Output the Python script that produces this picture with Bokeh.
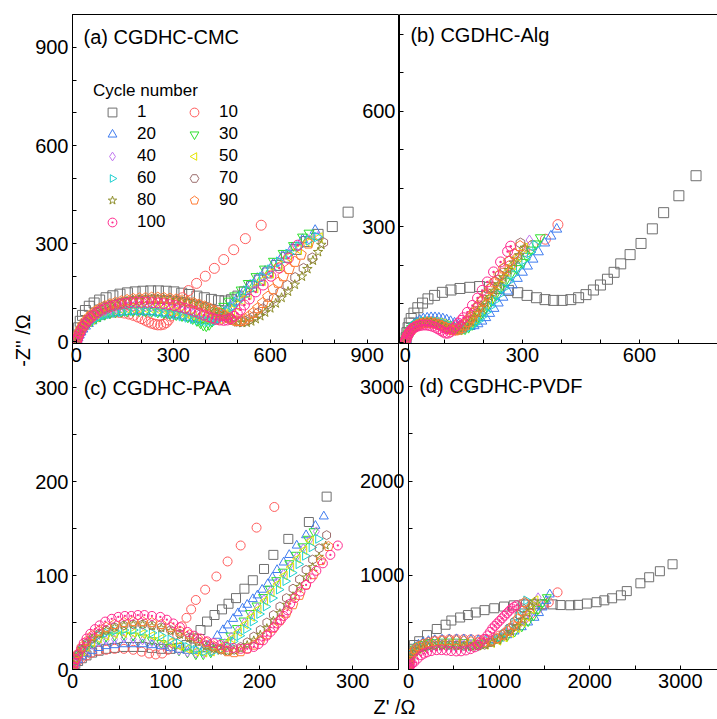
import math
from bokeh.plotting import figure
from bokeh.models import (ColumnDataSource, Range1d, FixedTicker, Label, Legend,
                          LegendItem, LinearAxis, Ngon)
from bokeh.layouts import row, column
from bokeh.embed import file_html
from bokeh.resources import INLINE

FONT = "Liberation Sans"

CYCLES = ["1", "10", "20", "30", "40", "50", "60", "70", "80", "90", "100"]

# ---------------- (a) CGDHC-CMC ----------------
cmc_1 = [(0,0),(3,20),(7,42),(12,62),(19,80),(28,95),(40,108),(55,118),(72,127),(92,134),(113,140),(135,145),(158,149),(182,152),(206,154),(230,155),(254,155),(278,154),(302,152),(326,148),(350,144),(373,139),(396,134),(418,129),(440,125),(460,124),(480,128),(500,139),(520,152),(542,168),(566,188),(592,210),(620,233),(650,258),(680,282),(712,306),(748,328),(792,352),(841,396)]
cmc_10 = [(0,0),(2,6),(4,13),(7,21),(11,30),(16,39),(22,48),(30,57),(39,65),(50,72),(62,78),(75,83),(89,87),(104,89),(119,90),(134,89),(149,87),(163,84),(177,80),(190,75),(202,70),(213,65),(223,60),(233,56),(243,53),(252,51),(261,51),(270,53),(278,58),(285,66),(292,78),(300,92),(312,112),(328,134),(347,156),(372,178),(399,200),(427,224),(456,251),(487,281),(523,315),(572,356)]
cmc_20 = [(0,0),(2,5),(5,12),(9,20),(14,29),(20,38),(28,47),(37,55),(48,63),(60,70),(73,76),(88,81),(104,85),(121,88),(139,90),(157,92),(176,93),(195,93),(214,92),(233,91),(252,89),(271,87),(290,84),(309,81),(327,78),(345,74),(362,71),(378,68),(393,66),(407,65),(420,66),(432,70),(444,77),(456,88),(469,102),(484,118),(500,135),(518,153),(538,172),(560,193),(584,215),(610,238),(638,262),(668,287),(700,312),(739,340)]
cmc_30 = [(0,0),(2,6),(5,13),(9,22),(14,31),(20,40),(28,49),(37,57),(48,65),(60,72),(73,78),(88,83),(104,87),(121,90),(139,92),(157,93),(176,94),(195,94),(214,93),(233,92),(252,90),(271,88),(290,85),(309,82),(327,79),(345,75),(360,70),(373,64),(384,57),(393,50),(402,48),(411,52),(420,62),(430,76),(442,92),(456,108),(472,124),(490,140),(510,158),(532,178),(556,199),(582,222),(610,246),(640,270),(672,294),(700,320),(720,332)]
cmc_40 = [(0,0),(2,6),(5,14),(9,23),(14,33),(20,43),(28,53),(37,62),(48,71),(60,79),(73,86),(88,92),(104,97),(121,101),(139,104),(157,106),(176,107),(195,108),(214,108),(233,107),(252,106),(271,104),(290,101),(309,98),(327,94),(345,90),(362,86),(378,82),(393,78),(407,75),(420,73),(432,73),(444,76),(456,83),(468,93),(481,106),(496,121),(513,138),(532,157),(553,177),(576,199),(601,222),(628,246),(657,270),(688,293),(720,312),(748,322)]
cmc_50 = [(0,0),(2,6),(5,13),(9,22),(14,32),(20,41),(28,51),(37,60),(48,68),(60,75),(73,82),(88,88),(104,92),(121,96),(139,99),(157,101),(176,102),(195,102),(214,102),(233,101),(252,99),(271,97),(290,94),(309,91),(327,87),(345,83),(362,79),(378,75),(393,71),(407,68),(420,66),(432,66),(444,69),(456,75),(468,84),(481,96),(496,110),(513,126),(532,144),(553,164),(576,186),(601,209),(628,233),(657,258),(688,282),(720,303),(752,318)]
cmc_60 = [(0,0),(2,5),(5,12),(9,21),(14,30),(20,39),(28,48),(37,56),(48,64),(60,71),(73,77),(88,82),(104,86),(121,89),(139,91),(157,93),(176,94),(195,94),(214,93),(233,92),(252,90),(271,88),(290,85),(309,82),(327,78),(345,74),(362,70),(378,66),(393,63),(407,61),(420,61),(432,64),(444,70),(456,80),(468,92),(481,106),(496,121),(513,138),(532,156),(553,176),(576,197),(601,220),(628,244),(657,268),(688,291),(720,310),(745,320)]
cmc_70 = [(0,0),(2,7),(5,16),(9,26),(14,37),(20,48),(28,59),(37,70),(48,80),(60,89),(73,97),(88,104),(104,110),(121,115),(139,119),(157,122),(176,125),(195,127),(214,128),(233,129),(252,129),(271,128),(290,127),(309,125),(327,122),(345,119),(363,115),(380,110),(397,105),(413,99),(428,93),(443,86),(457,79),(470,72),(483,66),(496,62),(509,61),(522,63),(535,68),(548,76),(562,87),(577,100),(593,115),(611,132),(631,151),(653,172),(677,196),(703,224),(730,256),(764,303)]
cmc_80 = [(0,0),(2,7),(5,16),(9,26),(14,37),(20,48),(28,59),(37,70),(48,80),(60,89),(73,97),(88,104),(104,110),(121,115),(139,119),(157,122),(176,125),(195,127),(214,128),(233,129),(252,129),(271,128),(290,127),(309,125),(327,122),(345,119),(363,115),(380,110),(397,104),(413,98),(428,91),(443,84),(457,77),(471,70),(485,64),(499,59),(513,57),(527,58),(541,62),(555,69),(569,78),(584,89),(600,102),(617,117),(635,134),(655,153),(676,174),(698,199),(715,222),(732,248),(748,274),(758,296)]
cmc_90 = [(0,0),(2,7),(5,16),(9,27),(14,38),(20,50),(28,62),(37,73),(48,84),(60,93),(73,101),(88,108),(104,114),(121,119),(139,123),(157,127),(176,130),(195,132),(214,133),(233,134),(252,134),(271,133),(290,131),(309,129),(327,126),(345,122),(363,118),(380,113),(397,107),(413,101),(428,94),(443,87),(457,80),(470,73),(483,67),(496,63),(509,63),(522,68),(535,77),(548,88),(562,102),(577,118),(593,137),(609,160),(624,180),(640,200),(658,222),(676,244),(695,266),(718,300)]
cmc_100 = [(0,0),(3,6),(6,14),(10,24),(15,34),(21,44),(28,54),(36,64),(45,73),(55,81),(66,89),(78,96),(91,102),(105,107),(120,111),(136,115),(152,117),(168,119),(185,120),(202,120),(219,120),(236,119),(253,118),(270,116),(287,113),(304,110),(320,106),(336,102),(352,97),(367,92),(381,86),(395,81),(408,76),(420,72),(432,68),(444,66),(456,65),(467,66),(478,70),(488,77),(498,86),(508,97),(520,112),(535,130),(555,152),(578,173),(602,200),(628,225),(656,255),(685,295)]

# ---------------- (b) CGDHC-Alg ----------------
alg_1 = [(0,0),(2,12),(4,25),(7,38),(10,50),(15,62),(22,76),(32,90),(44,102),(58,113),(75,122),(95,130),(117,136),(140,140),(165,143),(190,145),(215,143),(240,140),(264,135),(288,129),(312,122),(336,116),(358,111),(380,109),(402,109),(424,111),(444,116),(463,124),(482,136),(500,149),(518,164),(535,182),(552,204),(576,228),(604,257),(633,295),(662,337),(701,381),(745,433)]
alg_10 = [(0,0),(2,6),(4,13),(7,20),(11,27),(16,34),(22,40),(29,45),(37,49),(46,52),(56,53),(66,53),(76,51),(86,48),(95,44),(104,40),(112,37),(120,35),(128,35),(136,37),(144,42),(152,49),(160,58),(168,69),(177,81),(187,95),(198,110),(210,126),(223,143),(237,161),(252,180),(268,199),(286,218),(305,236),(326,252),(359,268),(391,306)]
alg_20 = [(0,0),(2,7),(4,15),(7,23),(11,31),(16,39),(22,46),(29,52),(37,57),(46,61),(56,63),(66,64),(76,64),(86,63),(96,61),(106,58),(116,54),(126,50),(136,46),(146,43),(156,41),(166,41),(176,43),(186,48),(196,55),(206,64),(216,75),(227,88),(238,102),(250,117),(262,133),(274,149),(287,166),(300,182),(313,198),(327,216),(341,235),(357,258),(373,276),(388,294)]
alg_30 = [(0,0),(2,6),(4,14),(7,22),(11,29),(16,36),(22,42),(29,47),(37,51),(46,54),(56,56),(66,56),(76,55),(86,53),(96,50),(106,46),(116,42),(126,38),(135,35),(144,34),(153,35),(162,39),(171,46),(180,55),(189,66),(199,79),(209,93),(220,108),(231,124),(243,141),(256,158),(270,176),(285,192),(300,208),(311,224),(322,240),(334,256),(346,272)]
alg_40 = [(0,0),(2,6),(4,13),(7,21),(11,28),(16,35),(22,41),(29,46),(37,50),(46,53),(56,54),(66,54),(76,53),(86,51),(96,48),(105,44),(114,40),(123,37),(132,35),(141,35),(150,38),(159,44),(168,52),(177,62),(186,73),(196,86),(206,100),(217,115),(228,131),(240,148),(252,166),(264,184),(276,202),(289,221),(302,241),(318,266)]
alg_50 = [(0,0),(2,6),(4,13),(7,20),(11,27),(16,34),(22,40),(29,45),(37,49),(46,52),(56,53),(66,53),(76,52),(86,50),(95,47),(104,43),(113,39),(122,36),(131,34),(140,34),(149,37),(158,43),(167,51),(176,61),(185,72),(195,85),(205,99),(216,114),(227,130),(239,147),(251,165),(263,183),(276,201),(290,222),(305,245)]
alg_60 = [(0,0),(2,6),(4,14),(7,22),(11,29),(16,36),(22,42),(29,47),(37,51),(46,54),(56,55),(66,55),(76,54),(86,52),(96,49),(106,45),(116,41),(126,37),(136,34),(146,33),(156,35),(166,40),(176,47),(186,56),(196,67),(206,79),(217,93),(228,108),(240,124),(252,141),(265,159),(278,177),(292,196),(306,215),(320,234),(334,252)]
alg_70 = [(0,0),(2,6),(4,13),(7,20),(11,27),(16,33),(22,39),(29,44),(37,48),(46,50),(56,51),(66,50),(76,49),(86,46),(95,43),(104,39),(112,35),(120,33),(128,32),(136,34),(144,39),(152,46),(160,55),(168,66),(177,79),(186,93),(196,108),(207,124),(218,141),(230,158),(242,175),(254,193),(266,211),(280,230),(295,258)]
alg_80 = [(0,0),(2,6),(4,13),(7,20),(11,27),(16,33),(22,39),(29,44),(37,48),(46,51),(56,52),(66,52),(76,51),(86,48),(95,45),(104,41),(113,37),(122,34),(131,33),(140,34),(149,38),(158,45),(167,54),(176,64),(185,76),(195,89),(205,103),(216,118),(227,134),(239,151),(251,169),(264,188),(278,207),(292,226),(306,246)]
alg_90 = [(0,0),(2,6),(4,13),(7,20),(11,27),(16,33),(22,39),(29,44),(37,48),(46,50),(56,51),(66,51),(76,49),(86,46),(95,42),(104,38),(112,35),(120,32),(128,31),(136,33),(144,37),(152,44),(160,53),(168,64),(177,77),(186,91),(196,106),(206,122),(217,139),(228,156),(240,174),(252,192),(265,210),(279,230),(294,250)]
alg_100 = [(0,0),(1,4),(2,9),(4,14),(6,19),(9,24),(12,29),(16,33),(20,37),(25,40),(31,42),(38,44),(45,45),(53,45),(61,44),(69,42),(77,39),(84,35),(91,31),(97,27),(103,24),(109,24),(115,27),(123,36),(130,43),(136,50),(143,57),(149,64),(159,78),(172,96),(185,115),(197,135),(210,157),(226,183),(244,209),(262,236),(270,250)]

# ---------------- (c) CGDHC-PAA ----------------
paa_1 = [(0,0),(1,3),(3,6),(6,9),(10,12),(15,15),(21,18),(28,20),(36,22),(45,23),(55,24),(65,24),(75,24),(85,23),(95,22),(105,22),(114,23),(122,26),(130,33),(137,42),(144,51),(152,58),(160,64),(167,70),(175,76),(184,86),(193,95),(205,107),(215,122),(231,139),(253,157),(272,184)]
paa_10 = [(0,0),(1,3),(3,6),(6,9),(10,12),(15,15),(21,18),(28,20),(36,21),(45,22),(55,22),(65,21),(74,19),(82,17),(89,16),(96,17),(102,21),(107,28),(112,37),(117,46),(122,55),(127,64),(132,74),(142,85),(154,99),(166,115),(180,132),(197,151),(216,173)]
paa_20 = [(0,0),(1,3),(3,7),(6,10),(10,14),(15,17),(21,20),(28,23),(36,25),(45,26),(55,27),(65,27),(75,27),(85,26),(95,25),(105,23),(114,21),(123,20),(132,20),(140,22),(147,27),(155,36),(161,42),(166,47),(172,54),(177,60),(182,65),(187,69),(193,75),(198,79),(203,85),(209,91),(214,98),(219,106),(226,114),(232,122),(240,132),(250,143),(260,153),(269,163)]
paa_30 = [(0,0),(1,4),(3,9),(6,14),(10,19),(15,24),(21,28),(28,32),(36,35),(45,36),(55,37),(65,36),(75,34),(85,31),(95,28),(105,24),(114,20),(123,18),(132,16),(140,16),(148,18),(155,23),(162,29),(169,36),(176,44),(183,52),(190,60),(197,68),(204,77),(211,86),(218,95),(225,104),(232,113),(239,122),(246,131),(252,139),(258,147)]
paa_40 = [(0,0),(1,4),(3,8),(6,13),(10,18),(15,22),(21,26),(28,29),(36,31),(45,32),(55,33),(65,32),(75,31),(85,29),(95,26),(105,23),(114,20),(123,18),(132,17),(141,17),(149,19),(156,23),(163,28),(170,35),(177,42),(184,50),(191,58),(198,66),(205,75),(212,84),(219,93),(226,102),(233,111),(240,120),(247,129),(254,138),(261,147)]
paa_50 = [(0,0),(1,4),(3,9),(6,14),(10,19),(15,24),(21,29),(28,33),(36,36),(45,38),(55,39),(65,39),(75,38),(85,36),(95,33),(105,29),(114,25),(123,22),(132,19),(141,18),(149,19),(157,22),(164,27),(171,33),(178,40),(185,48),(192,56),(199,64),(206,73),(213,82),(220,91),(227,100),(234,109),(241,118),(248,127),(255,137)]
paa_60 = [(0,0),(1,4),(3,9),(6,15),(10,21),(15,26),(21,31),(28,36),(36,39),(45,41),(55,42),(65,42),(75,41),(85,39),(95,36),(105,32),(114,28),(123,24),(132,21),(141,19),(150,19),(158,21),(165,25),(172,30),(179,36),(186,43),(193,51),(200,59),(207,67),(214,76),(221,85),(228,94),(235,103),(242,112),(249,121),(256,130),(263,139)]
paa_70 = [(0,0),(1,5),(3,10),(6,16),(10,22),(15,28),(21,33),(28,38),(36,42),(45,45),(55,47),(65,48),(75,48),(85,47),(95,45),(105,42),(115,38),(125,34),(134,30),(143,26),(151,23),(159,21),(166,20),(173,21),(180,24),(187,29),(194,35),(201,42),(208,50),(215,58),(222,67),(229,76),(236,86),(243,96),(250,106),(257,117),(264,129),(272,143)]
paa_80 = [(0,0),(1,5),(3,10),(6,16),(10,22),(15,28),(21,33),(28,38),(36,42),(45,45),(55,47),(65,48),(75,48),(85,46),(95,44),(105,41),(115,37),(125,33),(134,29),(143,25),(151,22),(159,20),(166,19),(173,20),(180,22),(187,26),(194,31),(201,37),(208,44),(215,52),(222,60),(229,69),(236,78),(243,88),(250,98),(257,109),(264,120),(271,132)]
paa_90 = [(0,0),(1,5),(3,11),(6,17),(10,24),(15,30),(21,36),(28,41),(36,45),(45,48),(55,50),(65,51),(75,51),(85,50),(95,48),(105,45),(115,41),(125,37),(134,33),(143,29),(151,25),(159,22),(166,19),(173,18),(180,19),(187,22),(194,26),(201,31),(208,37),(215,44),(222,52),(229,60),(236,69),(243,79),(250,90),(258,101),(266,116),(274,131)]
paa_100 = [(0,0),(1,3),(2,7),(4,11),(6,16),(9,22),(12,28),(15,33),(19,38),(24,43),(29,47),(35,51),(42,54),(49,56),(56,57),(63,57),(70,58),(77,58),(85,57),(94,56),(101,53),(108,49),(115,45),(123,40),(130,36),(137,33),(144,30),(151,28),(158,26),(165,24),(172,23),(180,22),(187,22),(194,24),(199,27),(204,31),(208,36),(212,40),(216,45),(219,49),(223,53),(226,57),(230,63),(233,70),(238,76),(244,83),(250,90),(255,97),(261,105),(268,113),(276,122),(284,132)]

# ---------------- (d) CGDHC-PVDF ----------------
pvdf_1 = [(0,0),(3,50),(8,110),(15,170),(30,220),(60,260),(118,300),(204,365),(312,430),(409,475),(473,520),(570,552),(656,578),(742,605),(839,630),(946,650),(1054,668),(1161,681),(1270,690),(1380,693),(1480,693),(1591,691),(1677,684),(1785,682),(1871,686),(1968,700),(2075,714),(2161,734),(2247,756),(2344,787),(2409,832),(2559,915),(2656,979),(2774,1043),(2914,1117)]
pvdf_10 = [(0,0),(8,60),(20,120),(40,170),(70,210),(110,245),(160,272),(220,292),(290,306),(370,315),(450,320),(530,322),(610,322),(690,320),(770,318),(850,320),(930,335),(1000,360),(1070,395),(1140,440),(1210,490),(1280,540),(1350,590),(1420,640),(1490,685),(1548,713),(1645,819)]
pvdf_20 = [(0,0),(8,70),(20,140),(40,195),(70,235),(110,265),(160,288),(220,303),(290,313),(370,319),(450,322),(530,323),(610,322),(690,318),(770,312),(850,308),(930,312),(1010,330),(1090,365),(1170,405),(1250,450),(1320,500),(1390,550),(1440,600),(1480,660),(1520,730),(1559,798)]
pvdf_30 = [(0,0),(8,65),(20,130),(40,185),(70,222),(110,250),(160,270),(220,283),(290,290),(370,294),(450,295),(530,294),(610,290),(690,285),(770,282),(850,285),(930,298),(1010,320),(1090,355),(1170,400),(1250,455),(1320,510),(1380,570),(1430,640),(1480,710),(1527,766)]
pvdf_40 = [(0,0),(8,60),(20,120),(40,170),(70,205),(110,232),(160,250),(220,262),(290,270),(370,274),(450,275),(530,274),(610,271),(690,268),(770,267),(850,274),(920,293),(990,320),(1060,356),(1130,400),(1200,455),(1270,520),(1330,590),(1390,680),(1430,766)]
pvdf_50 = [(0,0),(8,55),(20,110),(40,160),(70,195),(110,222),(160,240),(220,252),(290,259),(370,262),(450,262),(530,260),(610,256),(690,253),(770,254),(850,262),(920,280),(990,305),(1060,340),(1130,385),(1200,440),(1260,500),(1310,560),(1360,640),(1400,735)]
pvdf_60 = [(0,0),(8,55),(20,110),(40,155),(70,190),(110,215),(160,232),(220,243),(290,249),(370,252),(450,252),(530,250),(610,247),(690,246),(770,252),(840,268),(910,295),(980,330),(1050,375),(1110,430),(1170,500),(1220,570),(1260,650),(1301,734)]
pvdf_70 = [(0,0),(8,55),(20,110),(40,160),(70,195),(110,222),(160,240),(220,252),(290,258),(370,261),(450,260),(530,256),(610,250),(690,246),(770,248),(840,262),(910,290),(980,330),(1050,380),(1110,440),(1170,510),(1220,580),(1260,650),(1290,705)]
pvdf_80 = [(0,0),(8,52),(20,105),(40,150),(70,185),(110,210),(160,228),(220,240),(290,247),(370,250),(450,250),(530,248),(610,245),(690,243),(770,247),(850,258),(920,280),(990,310),(1060,350),(1130,400),(1200,460),(1260,530),(1310,600),(1350,670),(1390,720)]
pvdf_90 = [(0,0),(8,65),(20,130),(40,180),(70,215),(110,245),(160,268),(220,285),(290,297),(370,304),(450,307),(530,306),(610,302),(690,296),(770,290),(840,290),(910,303),(975,328),(1040,365),(1100,410),(1160,470),(1210,540),(1250,620),(1280,713)]
pvdf_100 = [(0,0),(5,12),(12,28),(22,45),(40,62),(65,80),(100,115),(140,150),(170,168),(204,182),(250,195),(312,205),(365,206),(419,202),(470,196),(527,192),(580,193),(634,202),(685,216),(731,235),(765,260),(796,288),(835,325),(871,362),(900,400),(925,436),(952,463),(978,489),(1005,516),(1032,543),(1059,570),(1086,596),(1113,623),(1140,649),(1167,666),(1194,682)]

COLORS = {"1": "#6f6f6f", "10": "#ff5c5c", "20": "#3f7cf0", "30": "#2fe02f",
          "40": "#c276f0", "50": "#e4e400", "60": "#1fd0d0", "70": "#9c6d6d",
          "80": "#8f8f2c", "90": "#ff7a33", "100": "#ff2a8f"}
# (kind, marker or polygon sides, angle)
MARKERS = {"1": ("m", "square", 0.0), "10": ("m", "circle", 0.0),
           "20": ("m", "triangle", 0.0), "30": ("m", "inverted_triangle", 0.0),
           "40": ("m", "diamond", 0.0), "50": ("n", 3, math.pi / 2),
           "60": ("n", 3, -math.pi / 2), "70": ("m", "hex", math.pi / 2),
           "80": ("m", "star", 0.0), "90": ("n", 5, 0.0),
           "100": ("m", "circle_dot", 0.0)}


def make_fig(xr, yr, w, h, bl, bt, bb, outline=True):
    p = figure(width=w, height=h, x_range=Range1d(*xr), y_range=Range1d(*yr),
               output_backend="svg", toolbar_location=None,
               min_border_left=bl, min_border_right=0, min_border_top=bt,
               min_border_bottom=bb, background_fill_color=None,
               border_fill_color=None,
               outline_line_color="black" if outline else None)
    p.xgrid.visible = False
    p.ygrid.visible = False
    return p


def text_fig(w, h):
    p = figure(width=w, height=h, x_range=Range1d(0, w), y_range=Range1d(0, h),
               output_backend="svg", toolbar_location=None, x_axis_type=None,
               y_axis_type=None, min_border=0, background_fill_color=None,
               border_fill_color=None, outline_line_color=None)
    return p


def style_axis(ax, major, minor):
    ax.ticker = FixedTicker(ticks=major, minor_ticks=minor)
    ax.axis_line_color = "black"
    ax.axis_line_width = 1
    ax.major_tick_in = 4
    ax.major_tick_out = 0
    ax.minor_tick_in = 4
    ax.minor_tick_out = 0
    ax.major_tick_line_color = "black"
    ax.minor_tick_line_color = "black"
    ax.major_label_text_font = FONT
    ax.major_label_text_font_size = "20px"
    ax.major_label_text_color = "black"
    ax.major_label_standoff = 4


def draw(p, data, size):
    rends = {}
    for c in CYCLES:
        pts = data[c]
        src = ColumnDataSource(data=dict(x=[q[0] for q in pts], y=[q[1] for q in pts]))
        col = COLORS[c]
        kind, mk, ang = MARKERS[c]
        if kind == "n":
            g = Ngon(x="x", y="y", radius=size * 0.56, radius_units="screen", n=mk,
                     angle=ang, fill_color=None, line_color=col, line_width=1)
            r = p.add_glyph(src, g)
        else:
            r = p.scatter("x", "y", source=src, marker=mk, angle=ang, size=size,
                          fill_color=None, line_color=col, line_width=1)
        rends[c] = r
    return rends


def title(p, x, y, text):
    p.add_layout(Label(x=x, y=y, text=text, text_font=FONT, text_font_size="20px",
                       text_baseline="middle", text_align="left", text_color="black"))


# ---------- panel A ----------
pa = make_fig((-12, 1000), (-6, 1001), 399, 377, 72, 14, 34)
style_axis(pa.xaxis[0], [0, 300, 600, 900], [100, 200, 400, 500, 700, 800, 1000])
style_axis(pa.yaxis[0], [0, 300, 600, 900], [100, 200, 400, 500, 700, 800, 1000])
ra = draw(pa, {"1": cmc_1, "10": cmc_10, "20": cmc_20, "30": cmc_30, "40": cmc_40,
               "50": cmc_50, "60": cmc_60, "70": cmc_70, "80": cmc_80, "90": cmc_90,
               "100": cmc_100}, 10)
title(pa, 22, 932, "(a) CGDHC-CMC")
order = ["1", "20", "40", "60", "80", "100", "10", "30", "50", "70", "90"]
leg = Legend(items=[LegendItem(label=c, renderers=[ra[c]]) for c in order],
             location=(21, 110), ncols=2, title="Cycle number",
             title_text_font=FONT, title_text_font_size="17px",
             title_text_font_style="normal", title_text_color="black",
             title_standoff=0,
             label_text_font=FONT, label_text_font_size="17px",
             label_text_color="black",
             glyph_width=38, glyph_height=22, label_standoff=6, label_width=38,
             label_height=22, spacing=0, padding=0, margin=0,
             border_line_color=None, background_fill_alpha=0)
pa.add_layout(leg)

# ---------- panel B ----------
pb = make_fig((-15, 800), (-3, 852), 360, 377, 42, 14, 34, outline=False)
style_axis(pb.xaxis[0], [0, 300, 600], [100, 200, 400, 500, 700, 800])
style_axis(pb.yaxis[0], [300, 600], [0, 100, 200, 400, 500, 700, 800])
top_b = LinearAxis(ticker=FixedTicker(ticks=[]), major_label_text_font_size="0px",
                   major_tick_in=0, major_tick_out=0, minor_tick_in=0,
                   minor_tick_out=0, major_label_standoff=0, axis_line_color="black")
pb.add_layout(top_b, "above")
draw(pb, {"1": alg_1, "10": alg_10, "20": alg_20, "30": alg_30, "40": alg_40,
          "50": alg_50, "60": alg_60, "70": alg_70, "80": alg_80, "90": alg_90,
          "100": alg_100}, 10)
title(pb, 13, 798, "(b) CGDHC-Alg")
pb.margin = (0, 0, 0, -42)

# ---------- panel C ----------
pc = make_fig((0, 350), (0, 347), 399, 376, 72, 0, 50)
style_axis(pc.xaxis[0], [0, 100, 200, 300], [50, 150, 250, 350])
style_axis(pc.yaxis[0], [0, 100, 200, 300], [50, 150, 250])
draw(pc, {"1": paa_1, "10": paa_10, "20": paa_20, "30": paa_30, "40": paa_40,
          "50": paa_50, "60": paa_60, "70": paa_70, "80": paa_80, "90": paa_90,
          "100": paa_100}, 9)
title(pc, 12, 300, "(c) CGDHC-PAA")

# ---------- panel D ----------
pd_ = make_fig((0, 3410), (0, 3460), 360, 376, 42, 0, 50, outline=False)
style_axis(pd_.xaxis[0], [0, 1000, 2000, 3000], [500, 1500, 2500])
style_axis(pd_.yaxis[0], [1000, 2000, 3000], [0, 500, 1500, 2500])
draw(pd_, {"1": pvdf_1, "10": pvdf_10, "20": pvdf_20, "30": pvdf_30, "40": pvdf_40,
           "50": pvdf_50, "60": pvdf_60, "70": pvdf_70, "80": pvdf_80, "90": pvdf_90,
           "100": pvdf_100}, 9)
title(pd_, 118, 3005, "(d) CGDHC-PVDF")
pd_.margin = (0, 0, 0, -42)

# ---------- shared axis titles ----------
ylab = text_fig(44, 719)
ylab.add_layout(Label(x=22, y=379, text="-Z'' /\u03a9", angle=math.pi / 2,
                      text_font=FONT, text_font_size="20px", text_align="center",
                      text_baseline="middle", text_color="black"))
xlab = text_fig(717, 28)
xlab.add_layout(Label(x=394, y=13, text="Z' /\u03a9", text_font=FONT,
                      text_font_size="20px", text_align="center",
                      text_baseline="middle", text_color="black"))

r1 = row(pa, pb)
r2 = row(pc, pd_)
r2.margin = (-34, 0, 0, 0)
grid = column(r1, r2)
grid.margin = (0, 0, 0, -44)
top = row(ylab, grid)
xlab.margin = (-28, 0, 0, 0)
layout = column(top, xlab)

open("out.html", "w").write(file_html(layout, INLINE))
